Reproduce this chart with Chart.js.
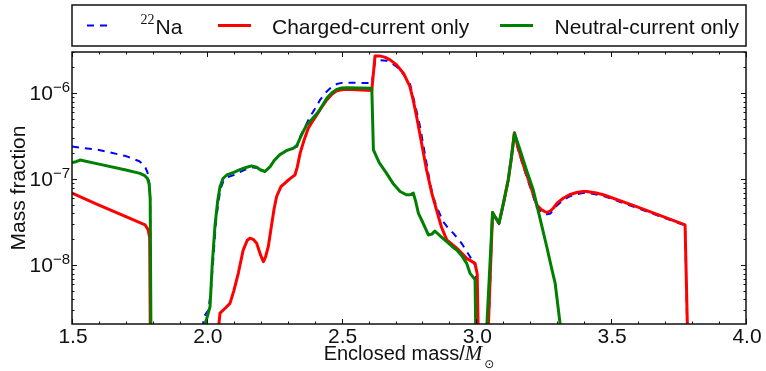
<!DOCTYPE html>
<html>
<head>
<meta charset="utf-8">
<script src="https://cdn.jsdelivr.net/npm/chart.js@4.4.0/dist/chart.umd.min.js"></script>
<style>
  html, body { margin: 0; padding: 0; background: #ffffff; }
  #wrap { width: 766px; height: 371px; }
</style>
</head>
<body>
<div id="wrap"><canvas id="massChart" width="766" height="371"></canvas></div>
<script>
// 22Na (dashed blue)
const naMass = [1.50, 1.60, 1.70, 1.75, 1.771, 1.78, 1.786, 1.79, 1.795, 1.98,
  1.987, 2.006, 2.015, 2.025, 2.035, 2.05, 2.062, 2.075, 2.10, 2.12,
  2.145, 2.17, 2.19, 2.215, 2.235, 2.25, 2.27, 2.295, 2.321, 2.335,
  2.346, 2.365, 2.383, 2.40, 2.42, 2.445, 2.465, 2.482, 2.50, 2.519,
  2.612, 2.625, 2.667, 2.685, 2.704, 2.73, 2.753, 2.772, 2.791, 2.81,
  2.828, 2.84, 2.852, 2.877, 2.895, 2.914, 2.945, 2.976, 2.998, 3.003,
  3.035, 3.045, 3.06, 3.07, 3.084, 3.10, 3.118, 3.13, 3.141, 3.155,
  3.174, 3.20, 3.224, 3.242, 3.261, 3.275, 3.285, 3.30, 3.322, 3.345,
  3.372, 3.395, 3.409, 3.44, 3.471, 3.594, 3.774, 3.79];
const naFrac = [2.40e-7, 2.19e-7, 1.86e-7, 1.62e-7, 1.40e-7, 1.2e-7, 9.5e-8, 6e-8, 1e-10, 1e-10,
  2.45e-9, 3.0e-9, 5e-9, 1.3e-8, 3.5e-8, 7.6e-8, 9.6e-8, 1.05e-7, 1.12e-7, 1.2e-7,
  1.3e-7, 1.38e-7, 1.34e-7, 1.23e-7, 1.4e-7, 1.65e-7, 1.9e-7, 2.15e-7, 2.3e-7, 2.4e-7,
  3.13e-7, 4.1e-7, 5.35e-7, 6.5e-7, 8.36e-7, 1.05e-6, 1.2e-6, 1.28e-6, 1.32e-6, 1.33e-6,
  1.31e-6, 2.44e-6, 2.39e-6, 2.25e-6, 2.04e-6, 1.65e-6, 1.31e-6, 7.5e-7, 4.09e-7, 1.9e-7,
  8.97e-8, 6.2e-8, 4.81e-8, 3.21e-8, 2.7e-8, 2.36e-8, 1.8e-8, 1.26e-8, 9.6e-9, 1e-10,
  1e-10, 1.8e-9, 4.0e-8, 3.5e-8, 3.0e-8, 5.0e-8, 9.5e-8, 1.75e-7, 3.3e-7, 2.2e-7,
  1.4e-7, 8.0e-8, 4.7e-8, 4.1e-8, 3.9e-8, 4.0e-8, 4.4e-8, 5.0e-8, 5.7e-8, 6.3e-8,
  6.7e-8, 6.9e-8, 6.9e-8, 6.7e-8, 6.4e-8, 4.65e-8, 2.9e-8, 1e-10];

// Charged-current only (red)
const ccMass = [1.50, 1.60, 1.70, 1.771, 1.782, 1.788, 1.793, 2.03, 2.043, 2.049,
  2.07, 2.086, 2.10, 2.117, 2.135, 2.15, 2.16, 2.172, 2.185, 2.20,
  2.21, 2.218, 2.228, 2.24, 2.25, 2.259, 2.275, 2.296, 2.315, 2.327,
  2.336, 2.346, 2.36, 2.376, 2.39, 2.408, 2.425, 2.445, 2.465, 2.482,
  2.50, 2.519, 2.612, 2.624, 2.64, 2.66, 2.68, 2.704, 2.73, 2.753,
  2.765, 2.778, 2.795, 2.815, 2.835, 2.852, 2.87, 2.89, 2.927, 2.964,
  2.995, 3.003, 3.013, 3.035, 3.044, 3.06, 3.07, 3.084, 3.10, 3.118,
  3.13, 3.141, 3.155, 3.174, 3.20, 3.224, 3.242, 3.261, 3.275, 3.285,
  3.30, 3.322, 3.345, 3.372, 3.395, 3.409, 3.44, 3.471, 3.594, 3.774,
  3.792];
const ccFrac = [6.9e-8, 5.0e-8, 3.67e-8, 2.94e-8, 2.6e-8, 2.1e-8, 1e-10, 1e-10, 1.8e-9, 2.77e-9,
  3.2e-9, 3.6e-9, 5e-9, 8.1e-9, 1.5e-8, 1.95e-8, 2.06e-8, 2.0e-8, 1.8e-8, 1.3e-8,
  1.1e-8, 1.25e-8, 1.64e-8, 2.9e-8, 4.6e-8, 6.3e-8, 8.2e-8, 9.4e-8, 1.05e-7, 1.12e-7,
  1.4e-7, 2.0e-7, 2.8e-7, 3.9e-7, 4.6e-7, 5.6e-7, 6.8e-7, 8.36e-7, 9.8e-7, 1.07e-6,
  1.1e-6, 1.11e-6, 1.08e-6, 2.72e-6, 2.72e-6, 2.63e-6, 2.45e-6, 2.14e-6, 1.7e-6, 1.2e-6,
  8.5e-7, 5.4e-7, 2.8e-7, 1.29e-7, 6.8e-8, 4.4e-8, 2.8e-8, 1.97e-8, 1.58e-8, 1.2e-8,
  1.05e-8, 7.9e-9, 1e-10, 1e-10, 1.8e-9, 4.1e-8, 3.6e-8, 3.1e-8, 5.2e-8, 9.8e-8,
  1.8e-7, 3.47e-7, 2.3e-7, 1.47e-7, 8.5e-8, 5.0e-8, 4.4e-8, 4.1e-8, 4.3e-8, 4.6e-8,
  5.3e-8, 6.0e-8, 6.6e-8, 7.0e-8, 7.2e-8, 7.2e-8, 6.95e-8, 6.6e-8, 4.8e-8, 2.94e-8,
  1e-10];

// Neutral-current only (green)
const ncMass = [1.50, 1.515, 1.53, 1.60, 1.70, 1.752, 1.77, 1.78, 1.786, 1.79,
  1.795, 1.98, 1.987, 2.00, 2.012, 2.02, 2.03, 2.04, 2.049, 2.06,
  2.074, 2.10, 2.123, 2.145, 2.166, 2.185, 2.20, 2.216, 2.235, 2.25,
  2.27, 2.295, 2.321, 2.335, 2.346, 2.358, 2.37, 2.39, 2.414, 2.43,
  2.445, 2.465, 2.482, 2.50, 2.519, 2.612, 2.618, 2.64, 2.667, 2.69,
  2.717, 2.74, 2.754, 2.766, 2.775, 2.785, 2.80, 2.822, 2.835, 2.846,
  2.865, 2.89, 2.91, 2.927, 2.945, 2.964, 2.976, 2.995, 3.003, 3.033,
  3.038, 3.06, 3.07, 3.084, 3.10, 3.118, 3.13, 3.141, 3.162, 3.185,
  3.211, 3.235, 3.261, 3.278, 3.292, 3.316, 3.33];
const ncFrac = [1.56e-7, 1.6e-7, 1.67e-7, 1.5e-7, 1.28e-7, 1.17e-7, 1.1e-7, 1.02e-7, 8.8e-8, 6e-8,
  1e-10, 1e-10, 1.8e-9, 2.4e-9, 3.3e-9, 1.0e-8, 2.8e-8, 5.5e-8, 8.2e-8, 1.02e-7,
  1.12e-7, 1.2e-7, 1.29e-7, 1.37e-7, 1.43e-7, 1.38e-7, 1.28e-7, 1.23e-7, 1.4e-7, 1.65e-7,
  1.92e-7, 2.15e-7, 2.29e-7, 2.5e-7, 3.0e-7, 3.6e-7, 4.27e-7, 5.0e-7, 6.1e-7, 7.3e-7,
  8.75e-7, 1.02e-6, 1.11e-6, 1.15e-6, 1.16e-6, 1.14e-6, 2.19e-7, 1.55e-7, 1.17e-7, 9.0e-8,
  7.2e-8, 6.6e-8, 6.6e-8, 6.9e-8, 5.5e-8, 4.0e-8, 3.2e-8, 2.25e-8, 2.3e-8, 2.5e-8,
  2.2e-8, 1.88e-8, 1.65e-8, 1.5e-8, 1.3e-8, 1.05e-8, 8.1e-9, 6.8e-9, 1e-10, 1e-10,
  1.8e-9, 4.1e-8, 3.6e-8, 3.1e-8, 5.2e-8, 9.8e-8, 1.8e-7, 3.43e-7, 2.19e-7, 1.3e-7,
  7.5e-8, 3.6e-8, 1.64e-8, 9.5e-9, 6.2e-9, 1.5e-9, 1e-10];

const xTicks = [1.5, 2.0, 2.5, 3.0, 3.5, 4.0];
const yTickExps = [-6, -7, -8];
const seriesLabels = ['Na', 'Charged-current only', 'Neutral-current only'];
const isotope = '22';

const SANS = "'Liberation Sans', Arial, sans-serif";
const SERIF = "'Liberation Serif', 'DejaVu Serif', serif";
const INK = '#111111';

function pts(xs, ys) {
    return xs.map((x, i) => ({ x: x, y: ys[i] }));
}

// frame, inward ticks, labels and the boxed legend (matplotlib look)
const decorPlugin = {
    id: 'decor',
    afterDraw(chart) {
        const ctx = chart.ctx;
        const area = chart.chartArea;
        const xs = chart.scales.x;
        const ys = chart.scales.y;
        ctx.save();
        ctx.strokeStyle = INK;
        ctx.fillStyle = INK;

        // x ticks (major 0.5, minor 0.1)
        ctx.lineWidth = 1;
        for (let k = 15; k <= 40; k++) {
            const px = Math.round(xs.getPixelForValue(k / 10)) + 0.5;
            const len = (k % 5 === 0) ? 5 : 2.5;
            ctx.beginPath();
            ctx.moveTo(px, area.bottom); ctx.lineTo(px, area.bottom - len);
            ctx.moveTo(px, area.top); ctx.lineTo(px, area.top + len);
            ctx.stroke();
        }
        // y ticks (decades + minor)
        for (let d = -9; d <= -6; d++) {
            for (let m = 1; m <= 9; m++) {
                const v = m * Math.pow(10, d);
                if (v < ys.min || v > ys.max) continue;
                const py = Math.round(ys.getPixelForValue(v)) + 0.5;
                const len = (m === 1) ? 5 : 2.5;
                ctx.beginPath();
                ctx.moveTo(area.left, py); ctx.lineTo(area.left + len, py);
                ctx.moveTo(area.right, py); ctx.lineTo(area.right - len, py);
                ctx.stroke();
            }
        }

        // frame
        ctx.lineWidth = 1.5;
        ctx.strokeRect(area.left, area.top, area.right - area.left, area.bottom - area.top);

        // x tick labels
        ctx.font = '21px ' + SANS;
        ctx.textAlign = 'center';
        ctx.textBaseline = 'alphabetic';
        xTicks.forEach(v => {
            ctx.fillText(v.toFixed(1), xs.getPixelForValue(v) + 1, area.bottom + 18.5);
        });

        // y tick labels 10^n
        yTickExps.forEach(e => {
            const py = ys.getPixelForValue(Math.pow(10, e));
            const sup = '\u2212' + Math.abs(e);
            ctx.font = '15px ' + SANS;
            const sw = ctx.measureText(sup).width;
            const right = area.left - 2;
            ctx.textAlign = 'left';
            ctx.fillText(sup, right - sw, py - 1);
            ctx.font = '21px ' + SANS;
            ctx.textAlign = 'right';
            ctx.fillText('10', right - sw, py + 7);
        });

        // y axis title
        ctx.save();
        ctx.translate(25, (area.top + area.bottom) / 2);
        ctx.rotate(-Math.PI / 2);
        ctx.font = '21px ' + SANS;
        ctx.textAlign = 'center';
        ctx.fillText('Mass fraction', 0, 0);
        ctx.restore();

        // x axis title: Enclosed mass/M_sun
        const t1 = 'Enclosed mass/';
        ctx.font = '20px ' + SANS;
        const w1 = ctx.measureText(t1).width;
        ctx.font = 'italic 21px ' + SERIF;
        const w2 = ctx.measureText('M').width;
        ctx.font = '12px ' + 'DejaVu Sans, sans-serif';
        const w3 = ctx.measureText('\u2299').width;
        let tx = (area.left + area.right) / 2 - (w1 + w2 + w3 + 2) / 2;
        const ty = 360;
        ctx.textAlign = 'left';
        ctx.font = '20px ' + SANS;
        ctx.fillText(t1, tx, ty);
        tx += w1;
        ctx.font = 'italic 21px ' + SERIF;
        ctx.fillText('M', tx, ty);
        tx += w2 + 2;
        ctx.font = '12px ' + 'DejaVu Sans, sans-serif';
        ctx.fillText('\u2299', tx, ty + 8);

        // legend frame
        const lgTop = 5, lgBottom = 46;
        ctx.lineWidth = 1.5;
        ctx.strokeRect(area.left, lgTop, area.right - area.left, lgBottom - lgTop);

        const midY = 25.5;
        const base = 33.5;
        const handles = [[87, 110, 155.5], [218, 251, 272], [500, 533, 554.5]];
        chart.data.datasets.forEach((ds, i) => {
            const h = handles[i];
            ctx.save();
            ctx.strokeStyle = ds.borderColor;
            ctx.lineWidth = ds.borderWidth;
            ctx.setLineDash(ds.borderDash || []);
            ctx.beginPath();
            ctx.moveTo(h[0], midY); ctx.lineTo(h[1], midY);
            ctx.stroke();
            ctx.restore();
            ctx.font = '21px ' + SANS;
            ctx.textAlign = 'left';
            ctx.fillText(ds.label, h[2], base);
        });
        // isotope superscript
        ctx.font = '14px ' + SERIF;
        ctx.textAlign = 'right';
        ctx.fillText(isotope, 154.5, 23.5);

        ctx.restore();
    }
};

const ctx = document.getElementById('massChart').getContext('2d');
new Chart(ctx, {
    type: 'line',
    data: {
        datasets: [
            {
                label: seriesLabels[0],
                data: pts(naMass, naFrac),
                borderColor: '#0000ff',
                borderWidth: 2,
                borderDash: [7, 6],
                order: 2
            },
            {
                label: seriesLabels[1],
                data: pts(ccMass, ccFrac),
                borderColor: '#ff0000',
                borderWidth: 3,
                order: 1
            },
            {
                label: seriesLabels[2],
                data: pts(ncMass, ncFrac),
                borderColor: '#008000',
                borderWidth: 3,
                order: 0
            }
        ]
    },
    options: {
        responsive: false,
        animation: false,
        devicePixelRatio: 1,
        layout: { padding: { left: 72, right: 20, top: 52, bottom: 47 } },
        elements: {
            point: { radius: 0, hoverRadius: 0 },
            line: { tension: 0, fill: false, borderJoinStyle: 'round' }
        },
        datasets: { line: { clip: 0 } },
        plugins: {
            legend: { display: false },
            tooltip: { enabled: false }
        },
        scales: {
            x: { type: 'linear', min: 1.5, max: 4.0, display: false },
            y: { type: 'logarithmic', min: 2.07e-9, max: 3.02e-6, display: false }
        }
    },
    plugins: [decorPlugin]
});
</script>
</body>
</html>
